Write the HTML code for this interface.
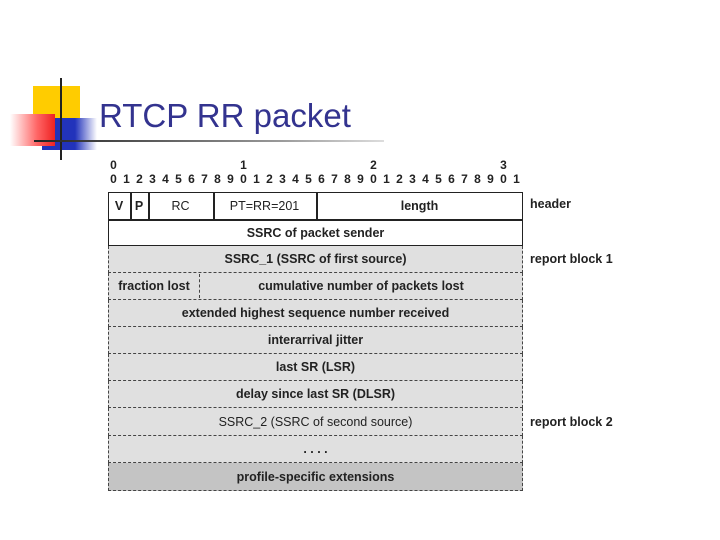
<!DOCTYPE html>
<html><head><style>
body{margin:0;width:720px;height:540px;background:#fff;position:relative;overflow:hidden;font-family:"Liberation Sans",sans-serif}
.a{position:absolute}
.t{position:absolute;left:108px;width:415px;display:flex;align-items:center;justify-content:center;font-weight:bold;font-size:12.5px;color:#222;box-sizing:border-box}
.g{background:#e0e0e0;border-left:1.5px dashed #444;border-right:1.5px dashed #444;border-bottom:1.5px dashed #444}
.bits span{position:absolute;width:13px;text-align:center;font-weight:bold;font-size:12px;color:#222}
.lab{position:absolute;left:530px;font-weight:bold;font-size:12.5px;color:#222}
</style></head><body>
<div class="a" style="left:33px;top:86px;width:47px;height:44px;background:#ffcc00"></div>
<div class="a" style="left:42px;top:118px;width:55px;height:32px;background:linear-gradient(90deg,#2233bb 60%,#fff)"></div>
<div class="a" style="left:10px;top:114px;width:45px;height:32px;background:linear-gradient(90deg,#fff,#ff6666 60%,#ee2222)"></div>
<div class="a" style="left:60px;top:78px;width:2px;height:82px;background:#222"></div>
<div class="a" style="left:34px;top:140px;width:350px;height:2px;background:linear-gradient(90deg,#222,#444 20%,#999 70%,#ddd)"></div>
<div class="a" style="left:99px;top:97px;font-size:33px;color:#33338f">RTCP RR packet</div>
<div class="bits a" style="left:0;top:0">
<span style="left:107px;top:158px">0</span><span style="left:237px;top:158px">1</span><span style="left:367px;top:158px">2</span><span style="left:497px;top:158px">3</span>
<span style="left:107px;top:172px">0</span><span style="left:120px;top:172px">1</span><span style="left:133px;top:172px">2</span><span style="left:146px;top:172px">3</span><span style="left:159px;top:172px">4</span><span style="left:172px;top:172px">5</span><span style="left:185px;top:172px">6</span><span style="left:198px;top:172px">7</span><span style="left:211px;top:172px">8</span><span style="left:224px;top:172px">9</span><span style="left:237px;top:172px">0</span><span style="left:250px;top:172px">1</span><span style="left:263px;top:172px">2</span><span style="left:276px;top:172px">3</span><span style="left:289px;top:172px">4</span><span style="left:302px;top:172px">5</span><span style="left:315px;top:172px">6</span><span style="left:328px;top:172px">7</span><span style="left:341px;top:172px">8</span><span style="left:354px;top:172px">9</span><span style="left:367px;top:172px">0</span><span style="left:380px;top:172px">1</span><span style="left:393px;top:172px">2</span><span style="left:406px;top:172px">3</span><span style="left:419px;top:172px">4</span><span style="left:432px;top:172px">5</span><span style="left:445px;top:172px">6</span><span style="left:458px;top:172px">7</span><span style="left:471px;top:172px">8</span><span style="left:484px;top:172px">9</span><span style="left:497px;top:172px">0</span><span style="left:510px;top:172px">1</span>
</div>
<div class="a" style="left:108px;top:192px;width:415px;height:54px;border:1.5px solid #222;box-sizing:border-box;background:#fff"></div>
<div class="a" style="left:108px;top:219px;width:415px;height:1.5px;background:#222"></div>
<div class="a" style="left:130px;top:192px;width:1.5px;height:27px;background:#222"></div>
<div class="a" style="left:148px;top:192px;width:1.5px;height:27px;background:#222"></div>
<div class="a" style="left:213px;top:192px;width:1.5px;height:27px;background:#222"></div>
<div class="a" style="left:316px;top:192px;width:1.5px;height:27px;background:#222"></div>
<div class="t" style="left:108px;width:22px;top:192px;height:27px">V</div>
<div class="t" style="left:130px;width:18px;top:192px;height:27px">P</div>
<div class="t" style="left:148px;width:65px;top:192px;height:27px;font-weight:normal">RC</div>
<div class="t" style="left:213px;width:103px;top:192px;height:27px;font-weight:normal">PT=RR=201</div>
<div class="t" style="left:316px;width:207px;top:192px;height:27px">length</div>
<div class="t" style="top:219px;height:27px">SSRC of packet sender</div>
<div class="t g" style="top:246px;height:27px">SSRC_1 (SSRC of first source)</div>
<div class="t g" style="top:273px;height:27px;justify-content:flex-start"><span style="width:90px;text-align:center;border-right:1.5px dashed #444;height:24px;line-height:24px">fraction lost</span><span style="flex:1;text-align:center">cumulative number of packets lost</span></div>
<div class="t g" style="top:300px;height:27px">extended highest sequence number received</div>
<div class="t g" style="top:327px;height:27px">interarrival jitter</div>
<div class="t g" style="top:354px;height:27px">last SR (LSR)</div>
<div class="t g" style="top:381px;height:27px">delay since last SR (DLSR)</div>
<div class="t g" style="top:408px;height:28px;font-weight:normal">SSRC_2 (SSRC of second source)</div>
<div class="t g" style="top:436px;height:27px">. . . .</div>
<div class="t g" style="top:463px;height:28px;background:#c4c4c4">profile-specific extensions</div>
<div class="lab" style="top:197px">header</div>
<div class="lab" style="top:252px">report block 1</div>
<div class="lab" style="top:415px">report block 2</div>
</body></html>
